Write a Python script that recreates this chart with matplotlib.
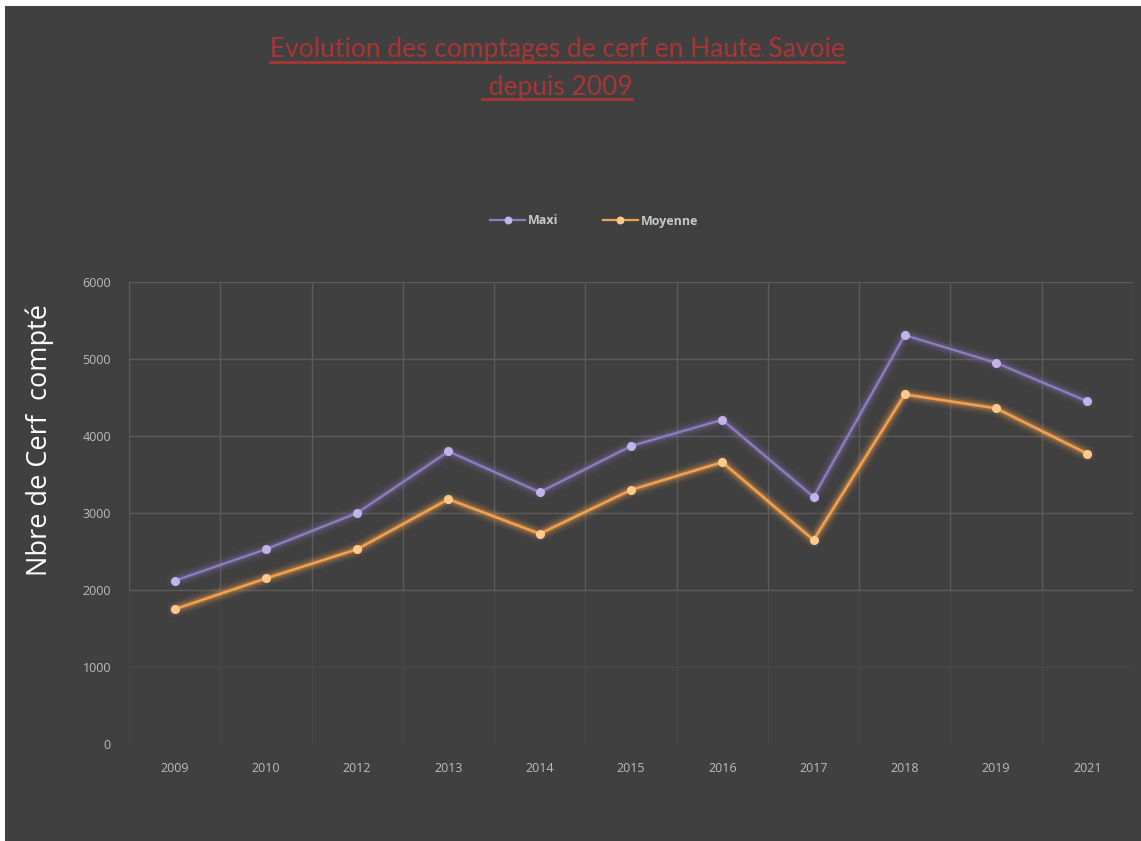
import matplotlib.pyplot as plt
from matplotlib.patches import Rectangle
from matplotlib.lines import Line2D

annees = ['2009', '2010', '2012', '2013', '2014', '2015', '2016', '2017', '2018', '2019', '2021']
maxi = [2120, 2530, 3000, 3800, 3270, 3870, 4210, 3210, 5310, 4950, 4450]
moyenne = [1750, 2150, 2530, 3180, 2730, 3300, 3660, 2650, 4540, 4360, 3770]
y_ticks = [0, 1000, 2000, 3000, 4000, 5000, 6000]

FOND = '#404040'
GRILLE = '#5b5b5b'
VIOLET = '#8e7cc3'
VIOLET_PT = '#c3b3ea'
ORANGE = '#f2a04e'
ORANGE_PT = '#ffc98e'
ROUGE = '#a93535'

W, H = 1141, 841
fig = plt.figure(figsize=(W / 100, H / 100), dpi=100, facecolor='white')
fig.patches.append(Rectangle((5 / W, 0), 1 - 5 / W, 1 - 6 / H, transform=fig.transFigure,
                             facecolor=FOND, edgecolor='none', zorder=-10))

ax = fig.add_axes([129 / W, 1 - 744 / H, (1133 - 129) / W, (744 - 282) / H])
ax.set_facecolor(FOND)
x = list(range(len(annees)))

# halo autour des courbes
for serie, col, f in [(maxi, VIOLET, 1.0), (moyenne, ORANGE, 1.4)]:
    for lw, a in [(11, 0.06), (7.5, 0.10), (4.5, 0.18)]:
        ax.plot(x, serie, color=col, lw=lw, alpha=a * f, solid_capstyle='round', zorder=2)

ax.plot(x, maxi, color=VIOLET, lw=1.7, marker='o', ms=5.5, mfc=VIOLET_PT, mec=VIOLET_PT,
        label='Maxi', zorder=3)
ax.plot(x, moyenne, color=ORANGE, lw=1.9, marker='o', ms=5.5, mfc=ORANGE_PT, mec=ORANGE_PT,
        label='Moyenne', zorder=3)

ax.set_xlim(-0.5, len(annees) - 0.5)
ax.set_ylim(0, 6000)
ax.set_xticks(x)
ax.set_xticklabels(annees)
ax.set_yticks(y_ticks)
ax.set_xticks([i - 0.5 for i in range(len(annees) + 1)], minor=True)
ax.tick_params(which='both', length=0)
ax.tick_params(axis='x', pad=13, labelsize=9, labelcolor='#bdbdbd')
ax.tick_params(axis='y', pad=13, labelsize=9, labelcolor='#bdbdbd')
for lab in ax.get_xticklabels() + ax.get_yticklabels():
    lab.set_family('Open Sans')

ax.grid(False)
for v in y_ticks[1:]:
    ax.axhline(v, color=GRILLE, lw=1, alpha=0.3 if v == 1000 else 1, zorder=1)
for v in ax.get_xticks(minor=True):
    ax.plot([v, v], [2000, 6000], color=GRILLE, lw=1, zorder=1)
    ax.plot([v, v], [0, 2000], color=GRILLE, lw=1, alpha=0.25, zorder=1)
for s in ax.spines.values():
    s.set_visible(False)

fig.text(40 / W, 1 - 440 / H, 'Nbre de Cerf  compté', rotation=90, ha='center', va='center',
         color='white', fontsize=19.5, family='Open Sans')

leg = fig.legend(loc='center', bbox_to_anchor=(594 / W, 1 - 221 / H), ncol=2, frameon=False,
                 fontsize=9, handlelength=2.8, columnspacing=3.6, handletextpad=0.2,
                 markerscale=0.85)
for t in leg.get_texts():
    t.set_color('#c8c8c8')
    t.set_fontweight('bold')
    t.set_family('Open Sans')
for l in leg.get_lines():
    l.set_linewidth(1.6)

# titre souligné
titres = [('Evolution des comptages de cerf en Haute Savoie', 50),
          (' depuis 2009', 87)]
fig.canvas.draw()
r = fig.canvas.get_renderer()
for txt, yy in titres:
    t = fig.text(557 / W, 1 - yy / H, txt, ha='center', va='center', color=ROUGE,
                 fontsize=19, family='Lato')
    bb = t.get_window_extent(renderer=r)
    yl = (bb.y0 + 1) / H
    fig.add_artist(Line2D([bb.x0 / W, bb.x1 / W], [yl, yl], color=ROUGE, lw=2,
                          transform=fig.transFigure))

fig.savefig('out.png', dpi=100, facecolor=fig.get_facecolor())
